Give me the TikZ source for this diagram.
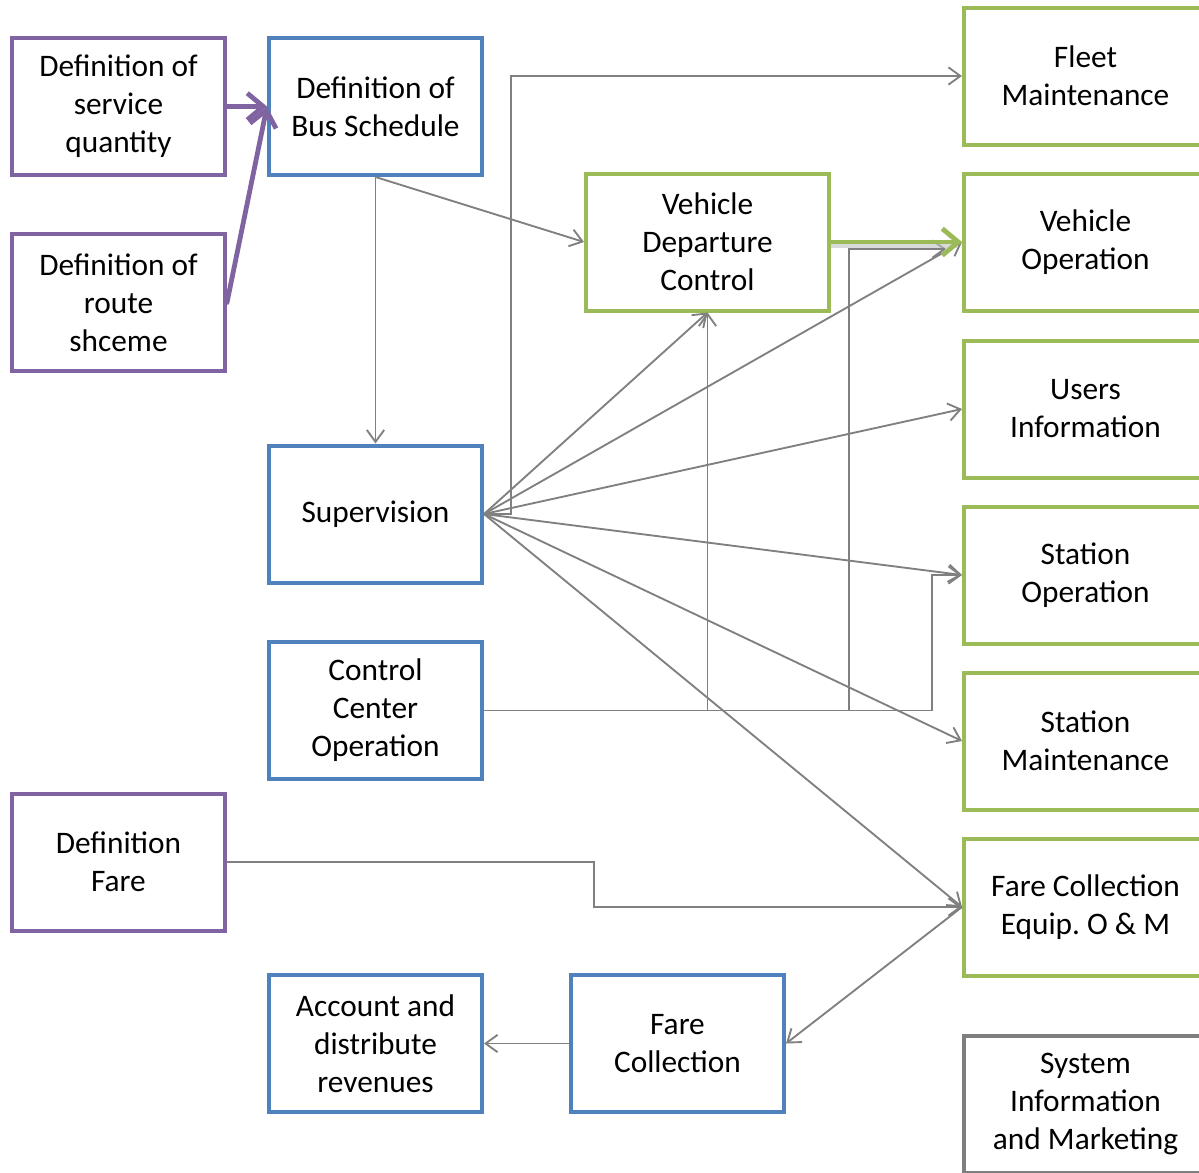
\documentclass[tikz,border=0pt]{standalone}
\usepackage{fontspec}
\setmainfont{Carlito}
\usetikzlibrary{arrows.meta}
\definecolor{cpurple}{HTML}{8064A2}
\definecolor{cblue}{HTML}{4F81BD}
\definecolor{cgreen}{HTML}{9BBB59}
\definecolor{cgray}{HTML}{7F7F7F}
\definecolor{cline}{HTML}{808080}
\tikzset{
  box/.style={draw, line width=3pt, align=center, minimum width=159.75pt, minimum height=102.75pt, inner sep=2pt,
    font=\fontsize{23.5pt}{28.5pt}\selectfont},
  pbox/.style={box, draw=cpurple},
  bbox/.style={box, draw=cblue},
  gbox/.style={box, draw=cgreen},
  wbox/.style={box, minimum width=182.25pt},
  conn/.style={draw=cline, line width=1.4pt, -{Straight Barb[length=9pt,width=13pt,line width=1.4pt]}},
  plink/.style={draw=cpurple, line width=3.6pt, line cap=round, -{Straight Barb[length=12pt,width=20pt,line width=3.6pt]}},
  glink/.style={draw=cgreen, line width=3.6pt, line cap=round, -{Straight Barb[length=12pt,width=20pt,line width=3.6pt]}}
}
\begin{document}
\begin{tikzpicture}[x=0.75pt,y=-0.75pt]
\useasboundingbox (0,0) rectangle (1199,1172);
\clip (0,0) rectangle (1199,1172);
% left purple
\node[pbox] (sq) at (118.5,106.5) {Definition of\\service\\quantity};
\node[pbox] (rs) at (118.5,302.5) {Definition of\\route\\shceme};
\node[pbox] (df) at (118.5,862) {Definition\\Fare};
% blue
\node[bbox] (bs) at (375.5,106.5) {Definition of\\Bus Schedule};
\node[bbox] (sup) at (375.5,514) {Supervision};
\node[bbox] (cco) at (375.5,710.5) {Control\\Center\\Operation};
\node[bbox] (acc) at (375.5,1043.5) {Account and\\distribute\\revenues};
\node[bbox] (fc) at (677.5,1043.5) {Fare\\Collection};
% green
\node[gbox,wbox] (vdc) at (707.5,242) {Vehicle\\Departure\\Control};
\node[gbox,wbox] (fm) at (1085.5,76) {Fleet\\Maintenance};
\node[gbox,wbox] (vo) at (1085.5,242) {Vehicle\\Operation};
\node[gbox,wbox] (ui) at (1085.5,409) {Users\\Information};
\node[gbox,wbox] (so) at (1085.5,575) {Station\\Operation};
\node[gbox,wbox] (sm) at (1085.5,741) {Station\\Maintenance};
\node[gbox,wbox] (fce) at (1085.5,907) {Fare Collection\\Equip.\ O \& M};
\node[box,wbox,draw=cgray] (sim) at (1085.5,1104) {System\\Information\\and Marketing};
% purple links
\draw[plink] (sq.east) -- (bs.west);
\draw[plink] (rs.east) -- (bs.west);
% bus schedule
\draw[conn] (bs.south) -- (sup.north);
\draw[conn] (bs.south) -- (vdc.west);
% supervision
\draw[conn] (sup.east) -- ++(27,0) |- (fm.west);
\draw[conn] (sup.east) -- (vdc.south);
\draw[conn] (sup.east) -- (vo.west);
\draw[conn] (sup.east) -- (ui.west);
\draw[conn] (sup.east) -- (so.west);
\draw[conn] (sup.east) -- (sm.west);
\draw[conn] (sup.east) -- (fce.west);
% control center
\draw[conn] (cco.east) -- (932,710.5) |- (so.west);
\draw[conn] (cco.east) -| (vdc.south);
\draw[conn] (cco.east) -| (849,249) -- ([yshift=-5.25pt,xshift=-12pt]vo.west);
% green link with shadow
\draw[draw=black!25, line width=3.6pt, opacity=0.6] ([yshift=-3pt]vdc.east) -- ([xshift=-4pt,yshift=-3pt]vo.west);
\draw[glink] (vdc.east) -- (vo.west);
% fare
\draw[conn] (df.east) -- (594,862) |- (fce.west);
\draw[conn] (fce.west) -- (fc.east);
\draw[conn] (fc.west) -- (acc.east);
\end{tikzpicture}
\end{document}
